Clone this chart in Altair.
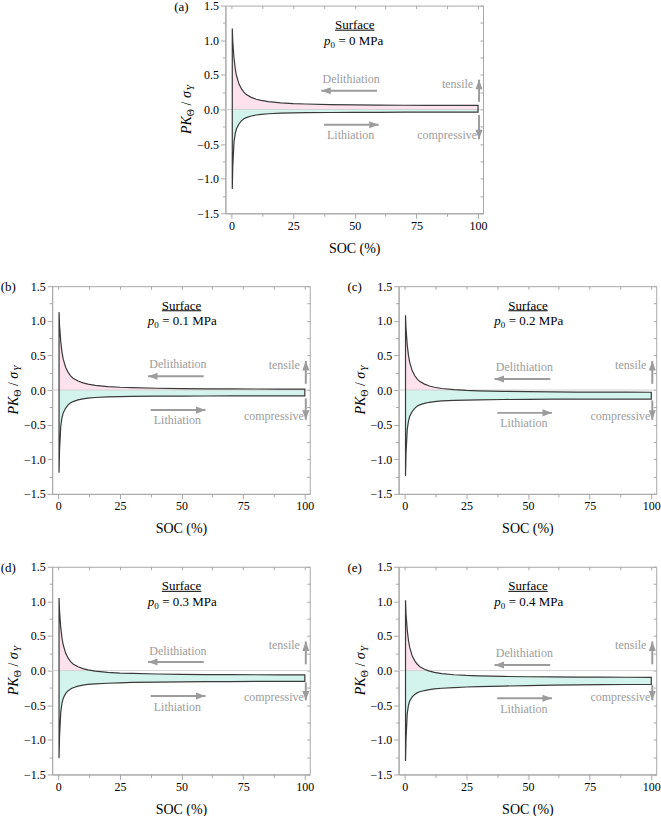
import altair as alt
import pandas as pd

# ---------------- data ----------------
SOC = [0.3, 0.5, 1, 1.5, 2, 3, 4, 5, 6, 8, 10, 12, 15, 20, 25, 30, 40, 50, 60, 70, 80, 90, 100]

UP_A = [1.17, 0.98, 0.74, 0.59, 0.49, 0.37, 0.30, 0.25, 0.215, 0.175, 0.148, 0.13, 0.112, 0.095, 0.085, 0.079, 0.071, 0.066, 0.063, 0.061, 0.06, 0.059, 0.058]
LO_A = [-1.15, -0.82, -0.47, -0.35, -0.28, -0.21, -0.165, -0.135, -0.118, -0.095, -0.08, -0.07, -0.062, -0.054, -0.05, -0.047, -0.044, -0.042, -0.041, -0.04, -0.04, -0.04, -0.04]

UP_B = [1.125, 0.935, 0.695, 0.545, 0.445, 0.325, 0.255, 0.205, 0.17, 0.13, 0.103, 0.085, 0.067, 0.05, 0.04, 0.034, 0.026, 0.021, 0.018, 0.016, 0.015, 0.014, 0.013]
LO_B = [-1.195, -0.87, -0.52, -0.40, -0.33, -0.26, -0.215, -0.185, -0.167, -0.143, -0.127, -0.117, -0.108, -0.1, -0.095, -0.092, -0.089, -0.087, -0.086, -0.085, -0.085, -0.085, -0.085]

UP_C = [1.08, 0.89, 0.65, 0.50, 0.40, 0.28, 0.21, 0.16, 0.125, 0.085, 0.058, 0.04, 0.022, 0.005, -0.005, -0.011, -0.019, -0.024, -0.027, -0.029, -0.03, -0.031, -0.032]
LO_C = [-1.24, -0.92, -0.57, -0.45, -0.38, -0.31, -0.265, -0.235, -0.215, -0.192, -0.177, -0.167, -0.158, -0.15, -0.145, -0.141, -0.137, -0.134, -0.132, -0.131, -0.13, -0.13, -0.13]

UP_D = [1.05, 0.86, 0.62, 0.47, 0.37, 0.25, 0.18, 0.13, 0.095, 0.055, 0.028, 0.01, -0.008, -0.025, -0.035, -0.041, -0.049, -0.054, -0.057, -0.059, -0.06, -0.061, -0.062]
LO_D = [-1.265, -0.95, -0.60, -0.47, -0.40, -0.33, -0.29, -0.265, -0.247, -0.225, -0.21, -0.2, -0.192, -0.183, -0.176, -0.171, -0.166, -0.162, -0.16, -0.158, -0.157, -0.156, -0.155]

UP_E = [1.015, 0.825, 0.585, 0.435, 0.335, 0.215, 0.145, 0.095, 0.06, 0.02, -0.007, -0.025, -0.043, -0.06, -0.07, -0.076, -0.084, -0.089, -0.092, -0.094, -0.095, -0.096, -0.097]
LO_E = [-1.305, -1.0, -0.62, -0.50, -0.44, -0.38, -0.345, -0.322, -0.306, -0.288, -0.275, -0.265, -0.255, -0.245, -0.237, -0.232, -0.224, -0.216, -0.21, -0.206, -0.203, -0.201, -0.2]

UPPERS = [UP_A, UP_B, UP_C, UP_D, UP_E]
LOWERS = [LO_A, LO_B, LO_C, LO_D, LO_E]

PANEL_LABELS = ["(a)", "(b)", "(c)", "(d)", "(e)"]
P0_VALUES = ["= 0 MPa", "= 0.1 MPa", "= 0.2 MPa", "= 0.3 MPa", "= 0.4 MPa"]
P0_X = [37.5, 36.3, 36.3, 36.3, 36.3]
P0_Y = 0.99
SURFACE_XY = (50, 1.22)
UNDERLINE = (42, 58, 1.145)

DELI_TEXT_Y = [0.44, 0.375, 0.337, 0.29, 0.25]
DELI_ARROW_Y = [0.27, 0.2, 0.16, 0.124, 0.08]
LITH_ARROW_Y = [-0.22, -0.29, -0.33, -0.367, -0.4]
LITH_TEXT_Y = [-0.37, -0.43, -0.48, -0.52, -0.55]
DELI_ARROW_X = (59, 36.4)   # tail, tip
LITH_ARROW_X = (37.5, 59.7)  # tail, tip
DELI_TEXT_X = 48.5
LITH_TEXT_X = 48.3
TENS_TEXT = (98, 0.365)
COMP_TEXT = (99.6, -0.375)
VARROW_X = 100.4
TENS_ARROW_Y = [(0.11, 0.43), (0.09, 0.42), (0.09, 0.42), (0.09, 0.42), (0.09, 0.42)]
COMP_ARROW_Y = [(-0.08, -0.43), (-0.12, -0.43), (-0.15, -0.43), (-0.17, -0.43), (-0.21, -0.43)]

X_TICKS = [0, 12.5, 25, 37.5, 50, 62.5, 75, 87.5, 100]
Y_TICKS = [-1.5, -1.25, -1.0, -0.75, -0.5, -0.25, 0.0, 0.25, 0.5, 0.75, 1.0, 1.25, 1.5]

# ---------------- styles ----------------
FONT = "'Liberation Serif', 'Times New Roman', Times, serif"
GRAY = "#9c9c9c"
AXIS_GRAY = "#a8a8a8"
PINK = "#fde2ee"
CYAN = "#d2f4ec"
LINE = "#3a3a3a"
W, H = 258, 208

XS = alt.Scale(domain=[-2.5, 102], nice=False, zero=False)
YS = alt.Scale(domain=[-1.5, 1.5], nice=False, zero=False)


def X(field, axis=None):
    return alt.X(field, type="quantitative", scale=XS, axis=axis)


def Y(field, axis=None):
    return alt.Y(field, type="quantitative", scale=YS, axis=axis)


def one(**kw):
    return pd.DataFrame({k: [v] for k, v in kw.items()})


X_MAIN_AXIS = alt.Axis(
    orient="bottom", values=X_TICKS, format="d",
    labelExpr="abs(datum.value % 25) < 0.01 ? datum.label : ''",
    tickSize={"condition": {"test": "abs(datum.value % 25) < 0.01", "value": 5}, "value": 3},
    labelPadding=2, labelFlush=False, labelOverlap=False, grid=False,
    title="SOC (%)", titlePadding=10,
)
Y_MAIN_AXIS = alt.Axis(
    orient="left", values=Y_TICKS, format=".1f",
    labelExpr="abs(datum.value % 0.5) < 0.001 ? datum.label : ''",
    tickSize={"condition": {"test": "abs(datum.value % 0.5) < 0.001", "value": 5}, "value": 3},
    labelPadding=2, labelFlush=False, labelOverlap=False, grid=False, title=None,
)
X_FRAME_AXIS = alt.Axis(orient="top", values=X_TICKS, labels=False, domain=False,
                        tickSize=3, offset=-3, title=None, grid=False)
Y_FRAME_AXIS = alt.Axis(orient="right", values=Y_TICKS, labels=False, domain=False,
                        tickSize=3, offset=-3, title=None, grid=False)


def panel(i):
    up, lo = UPPERS[i], LOWERS[i]
    area_df = pd.DataFrame({"soc": SOC, "up": up, "lo": lo})
    loop_soc = SOC + SOC[::-1] + [SOC[0]]
    loop_v = lo + up[::-1] + [lo[0]]
    loop_df = pd.DataFrame({"soc": loop_soc, "v": loop_v, "ord": list(range(len(loop_soc)))})

    base = alt.Chart(area_df).transform_calculate(
        pos="max(datum.up, 0)", negtop="min(datum.up, 0)", zero="0"
    )
    pink = base.mark_area(color=PINK, opacity=1).encode(
        x=X("soc"), y=Y("zero"), y2="pos:Q")
    cyan = base.mark_area(color=CYAN, opacity=1).encode(
        x=X("soc"), y=Y("lo"), y2="negtop:Q")
    zero = alt.Chart(one(z=0)).mark_rule(color="#d2d2d2", strokeWidth=1).encode(
        y=Y("z"))
    line = alt.Chart(loop_df).mark_line(color=LINE, strokeWidth=1.2).encode(
        x=X("soc", X_MAIN_AXIS), y=Y("v", Y_MAIN_AXIS), order="ord:Q")
    frame = alt.Chart(area_df).mark_point(opacity=0).encode(
        x=X("soc", X_FRAME_AXIS), y=Y("up", Y_FRAME_AXIS))

    # horizontal arrows
    harr = pd.DataFrame({
        "tail": [DELI_ARROW_X[0], LITH_ARROW_X[0]],
        "tip": [DELI_ARROW_X[1], LITH_ARROW_X[1]],
        "y": [DELI_ARROW_Y[i], LITH_ARROW_Y[i]],
    })
    hline = alt.Chart(harr).mark_rule(color=GRAY, strokeWidth=2).encode(
        x=X("tail"), x2="tip:Q", y=Y("y"))
    head_l = alt.Chart(harr.iloc[[0]]).mark_point(
        shape="M0,0L2,-0.75L2,0.75Z", filled=True, color=GRAY, opacity=1, size=90, strokeWidth=0
    ).encode(x=X("tip"), y=Y("y"))
    head_r = alt.Chart(harr.iloc[[1]]).mark_point(
        shape="M0,0L-2,-0.75L-2,0.75Z", filled=True, color=GRAY, opacity=1, size=90, strokeWidth=0
    ).encode(x=X("tip"), y=Y("y"))

    # vertical arrows
    varr = pd.DataFrame({
        "x": [VARROW_X, VARROW_X],
        "tail": [TENS_ARROW_Y[i][0], COMP_ARROW_Y[i][0]],
        "tip": [TENS_ARROW_Y[i][1], COMP_ARROW_Y[i][1]],
    })
    vline = alt.Chart(varr).mark_rule(color=GRAY, strokeWidth=2).encode(
        x=X("x"), y=Y("tail"), y2="tip:Q")
    head_u = alt.Chart(varr.iloc[[0]]).mark_point(
        shape="M0,0L-0.75,2L0.75,2Z", filled=True, color=GRAY, opacity=1, size=90, strokeWidth=0
    ).encode(x=X("x"), y=Y("tip"))
    head_d = alt.Chart(varr.iloc[[1]]).mark_point(
        shape="M0,0L-0.75,-2L0.75,-2Z", filled=True, color=GRAY, opacity=1, size=90, strokeWidth=0
    ).encode(x=X("x"), y=Y("tip"))

    gray_c = pd.DataFrame({
        "x": [DELI_TEXT_X, LITH_TEXT_X],
        "y": [DELI_TEXT_Y[i], LITH_TEXT_Y[i]],
        "t": ["Delithiation", "Lithiation"],
    })
    gray_r = pd.DataFrame({
        "x": [TENS_TEXT[0], COMP_TEXT[0]],
        "y": [TENS_TEXT[1], COMP_TEXT[1]],
        "t": ["tensile", "compressive"],
    })
    txt_c = alt.Chart(gray_c).mark_text(font=FONT, fontSize=12, color=GRAY, align="center",
                                        baseline="middle").encode(x=X("x"), y=Y("y"), text="t:N")
    txt_r = alt.Chart(gray_r).mark_text(font=FONT, fontSize=12, color=GRAY, align="right",
                                        baseline="middle").encode(x=X("x"), y=Y("y"), text="t:N")

    surf = alt.Chart(one(x=SURFACE_XY[0], y=SURFACE_XY[1], t="Surface")).mark_text(
        font=FONT, fontSize=13, color="black", align="center", baseline="middle"
    ).encode(x=X("x"), y=Y("y"), text="t:N")
    uline = alt.Chart(one(x=UNDERLINE[0], x2=UNDERLINE[1], y=UNDERLINE[2])).mark_rule(
        color="black", strokeWidth=1).encode(x=X("x"), x2="x2:Q", y=Y("y"))

    p0df = one(x=P0_X[i], y=P0_Y)
    p_it = alt.Chart(p0df).mark_text(text="p", font=FONT, fontSize=13, fontStyle="italic",
                                     align="left", baseline="middle", color="black").encode(x=X("x"), y=Y("y"))
    p_sub = alt.Chart(p0df).mark_text(text="0", font=FONT, fontSize=9, align="left",
                                      baseline="middle", dx=6.5, dy=4, color="black").encode(x=X("x"), y=Y("y"))
    p_rest = alt.Chart(p0df).mark_text(text=P0_VALUES[i], font=FONT, fontSize=13, align="left",
                                       baseline="middle", dx=14.5, color="black").encode(x=X("x"), y=Y("y"))

    # y axis title pieces: P K_Θ / σ_Y  (rotated)
    dummy = one(a=0)
    cy = H / 2
    y0 = cy + 24.6
    title_parts = [
        ("PK", 14, "italic", -34, y0),
        ("Θ", 10, "normal", -31, y0 - 17.9),
        ("/", 14, "normal", -34, y0 - 28.6),
        ("σ", 14, "italic", -34, y0 - 36.0),
        ("Y", 10, "italic", -31, y0 - 43.7),
    ]
    tlayers = []
    for t, fs, st, xx, yy in title_parts:
        tlayers.append(
            alt.Chart(dummy).mark_text(text=t, font=FONT, fontSize=fs, fontStyle=st, angle=270,
                                       align="left", baseline="alphabetic", color="black")
            .encode(x=alt.value(xx), y=alt.value(yy))
        )
    lab = alt.Chart(dummy).mark_text(text=PANEL_LABELS[i], font=FONT, fontSize=13, align="center",
                                     baseline="middle", color="black").encode(x=alt.value(-44), y=alt.value(1))

    layers = [pink, cyan, zero, line, frame, hline, head_l, head_r, vline, head_u, head_d,
              txt_c, txt_r, surf, uline, p_it, p_sub, p_rest] + tlayers + [lab]
    return alt.layer(*layers).resolve_axis(x="independent", y="independent").properties(width=W, height=H)


pa, pb, pc, pd_, pe = [panel(i) for i in range(5)]
row2 = alt.hconcat(pb, pc, spacing=32)
row3 = alt.hconcat(pd_, pe, spacing=32)
chart = alt.vconcat(pa, row2, row3, spacing=23, center=True).properties(
    padding={"left": 0, "top": -2, "right": 0, "bottom": 0}
).configure_axis(
    labelFont=FONT, labelFontSize=12, labelColor="black",
    titleFont=FONT, titleFontSize=14, titleFontWeight="normal", titleColor="black",
    domainColor=AXIS_GRAY, tickColor=AXIS_GRAY, grid=False,
).configure_view(stroke=AXIS_GRAY, strokeWidth=1)

chart.save("out.html", embed_options={"renderer": "svg", "actions": False})
